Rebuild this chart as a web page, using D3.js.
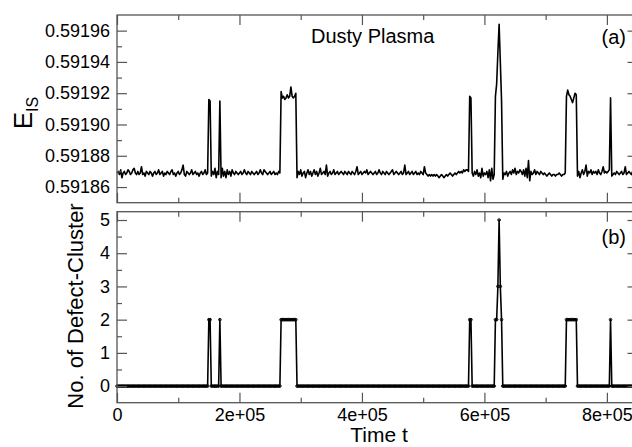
<!DOCTYPE html>
<html><head><meta charset="utf-8">
<script src="https://cdn.jsdelivr.net/npm/d3@7/dist/d3.min.js"></script>
<style>
body{margin:0;background:#fff}
svg{display:block;font-family:"Liberation Sans",Arial,Helvetica,sans-serif}
</style>
</head><body>
<svg id="chart" width="632" height="447"></svg>
<script>
// ---- data (sampled every 2000 time units, t = 0 .. 850000) ----
const timeStep = 2000;
const energy = [
0.591869,0.591870,0.591868,0.591871,0.591866,0.591869,0.591870,0.591868,0.591869,0.591871,
0.591870,0.591868,0.591869,0.591871,0.591872,0.591869,0.591868,0.591870,0.591868,0.591869,
0.591873,0.591868,0.591869,0.591867,0.591870,0.591869,0.591868,0.591870,0.591869,0.591867,
0.591869,0.591870,0.591868,0.591869,0.591871,0.591868,0.591869,0.591870,0.591867,0.591869,
0.591868,0.591870,0.591869,0.591868,0.591870,0.591871,0.591868,0.591869,0.591867,0.591869,
0.591870,0.591868,0.591869,0.591871,0.591874,0.591868,0.591867,0.591870,0.591869,0.591868,
0.591869,0.591871,0.591868,0.591869,0.591870,0.591868,0.591869,0.591867,0.591869,0.591870,
0.591868,0.591869,0.591871,0.591868,0.591869,0.591916,0.591915,0.591867,0.591870,0.591868,
0.591872,0.591866,0.591870,0.591868,0.591915,0.591866,0.591872,0.591867,0.591870,0.591866,
0.591871,0.591868,0.591870,0.591867,0.591871,0.591869,0.591868,0.591870,0.591869,0.591868,
0.591869,0.591870,0.591868,0.591869,0.591871,0.591869,0.591868,0.591870,0.591869,0.591868,
0.591870,0.591869,0.591868,0.591869,0.591870,0.591868,0.591869,0.591871,0.591869,0.591868,
0.591871,0.591870,0.591869,0.591868,0.591869,0.591870,0.591868,0.591869,0.591870,0.591868,
0.591869,0.591868,0.591870,0.591869,0.591921,0.591917,0.591918,0.591916,0.591917,0.591919,
0.591917,0.591918,0.591924,0.591918,0.591917,0.591918,0.591920,0.591866,0.591870,0.591868,
0.591871,0.591867,0.591869,0.591870,0.591866,0.591869,0.591871,0.591868,0.591870,0.591867,
0.591869,0.591871,0.591868,0.591870,0.591867,0.591869,0.591872,0.591868,0.591869,0.591870,
0.591868,0.591874,0.591867,0.591869,0.591870,0.591868,0.591869,0.591871,0.591868,0.591869,
0.591870,0.591868,0.591869,0.591870,0.591869,0.591868,0.591870,0.591869,0.591868,0.591870,
0.591869,0.591868,0.591870,0.591869,0.591868,0.591870,0.591873,0.591868,0.591869,0.591870,
0.591868,0.591869,0.591870,0.591869,0.591871,0.591868,0.591869,0.591870,0.591869,0.591868,
0.591869,0.591870,0.591868,0.591869,0.591871,0.591869,0.591868,0.591870,0.591869,0.591868,
0.591870,0.591869,0.591868,0.591869,0.591870,0.591871,0.591868,0.591869,0.591870,0.591869,
0.591868,0.591869,0.591870,0.591868,0.591869,0.591874,0.591868,0.591869,0.591870,0.591868,
0.591869,0.591870,0.591868,0.591869,0.591870,0.591868,0.591869,0.591868,0.591870,0.591869,
0.591868,0.591873,0.591869,0.591868,0.591867,0.591868,0.591867,0.591868,0.591867,0.591868,
0.591867,0.591868,0.591867,0.591866,0.591867,0.591868,0.591867,0.591866,0.591867,0.591868,
0.591867,0.591868,0.591869,0.591868,0.591867,0.591868,0.591869,0.591868,0.591869,0.591870,
0.591869,0.591870,0.591869,0.591871,0.591870,0.591871,0.591871,0.591870,0.591918,0.591917,
0.591869,0.591867,0.591870,0.591868,0.591871,0.591867,0.591869,0.591866,0.591872,0.591867,
0.591869,0.591868,0.591870,0.591866,0.591871,0.591864,0.591872,0.591865,0.591868,0.591918,
0.591926,0.591946,0.591964,0.591940,0.591915,0.591865,0.591869,0.591868,0.591870,0.591867,
0.591869,0.591870,0.591868,0.591871,0.591869,0.591872,0.591868,0.591870,0.591869,0.591871,
0.591870,0.591868,0.591871,0.591867,0.591872,0.591866,0.591877,0.591864,0.591870,0.591868,
0.591869,0.591871,0.591868,0.591870,0.591869,0.591868,0.591870,0.591869,0.591868,0.591869,
0.591868,0.591867,0.591868,0.591869,0.591868,0.591867,0.591868,0.591868,0.591867,0.591868,
0.591868,0.591869,0.591868,0.591867,0.591868,0.591868,0.591869,0.591918,0.591922,0.591919,
0.591918,0.591916,0.591914,0.591917,0.591920,0.591919,0.591867,0.591870,0.591866,0.591869,
0.591871,0.591868,0.591870,0.591874,0.591867,0.591870,0.591869,0.591871,0.591868,0.591870,
0.591869,0.591870,0.591868,0.591871,0.591869,0.591868,0.591870,0.591873,0.591869,0.591870,
0.591869,0.591870,0.591871,0.591917,0.591867,0.591868,0.591869,0.591868,0.591870,0.591869,
0.591868,0.591869,0.591870,0.591868,0.591869,0.591873,0.591868,0.591869,0.591870,0.591869,
0.591868,0.591870,0.591869,0.591868,0.591869,0.591870
];
const clusters = [
0,0,0,0,0,0,0,0,0,0,
0,0,0,0,0,0,0,0,0,0,
0,0,0,0,0,0,0,0,0,0,
0,0,0,0,0,0,0,0,0,0,
0,0,0,0,0,0,0,0,0,0,
0,0,0,0,0,0,0,0,0,0,
0,0,0,0,0,0,0,0,0,0,
0,0,0,0,0,2,2,0,0,0,
0,0,0,0,2,0,0,0,0,0,
0,0,0,0,0,0,0,0,0,0,
0,0,0,0,0,0,0,0,0,0,
0,0,0,0,0,0,0,0,0,0,
0,0,0,0,0,0,0,0,0,0,
0,0,0,0,2,2,2,2,2,2,
2,2,2,2,2,2,2,0,0,0,
0,0,0,0,0,0,0,0,0,0,
0,0,0,0,0,0,0,0,0,0,
0,0,0,0,0,0,0,0,0,0,
0,0,0,0,0,0,0,0,0,0,
0,0,0,0,0,0,0,0,0,0,
0,0,0,0,0,0,0,0,0,0,
0,0,0,0,0,0,0,0,0,0,
0,0,0,0,0,0,0,0,0,0,
0,0,0,0,0,0,0,0,0,0,
0,0,0,0,0,0,0,0,0,0,
0,0,0,0,0,0,0,0,0,0,
0,0,0,0,0,0,0,0,0,0,
0,0,0,0,0,0,0,0,0,0,
0,0,0,0,0,0,0,0,2,2,
0,0,0,0,0,0,0,0,0,0,
0,0,0,0,0,0,0,0,0,2,
2,3,5,3,2,0,0,0,0,0,
0,0,0,0,0,0,0,0,0,0,
0,0,0,0,0,0,0,0,0,0,
0,0,0,0,0,0,0,0,0,0,
0,0,0,0,0,0,0,0,0,0,
0,0,0,0,0,0,0,2,2,2,
2,2,2,2,2,2,0,0,0,0,
0,0,0,0,0,0,0,0,0,0,
0,0,0,0,0,0,0,0,0,0,
0,0,0,2,0,0,0,0,0,0,
0,0,0,0,0,0,0,0,0,0,
0,0,0,0,0,0
];
const xTicks = [0, 200000, 400000, 600000, 800000];
const xTickLabels = ["0", "2e+05", "4e+05", "6e+05", "8e+05"];
const xMinorTicks = [100000, 300000, 500000, 700000];
const eTicks = [0.59186, 0.59188, 0.59190, 0.59192, 0.59194, 0.59196];
const eTickLabels = ["0.59186", "0.59188", "0.59190", "0.59192", "0.59194", "0.59196"];
const eMinorTicks = [0.59187, 0.59189, 0.59191, 0.59193, 0.59195];
const nTicks = [0, 1, 2, 3, 4, 5];
const nTickLabels = ["0", "1", "2", "3", "4", "5"];
const nMinorTicks = [0.5, 1.5, 2.5, 3.5, 4.5];

// ---- layout ----
const svg = d3.select("#chart");
const L = 117, R = 637.5;
const p1 = {top: 15, bottom: 202.7};
const p2 = {top: 211.7, bottom: 402.7};
const frameColor = "#555";

const times = energy.map((_, i) => i * timeStep);

const x = d3.scaleLinear().domain([0, 850000]).range([L, R]);
const yE = d3.scaleLinear().domain([0.59185, 0.59197]).range([p1.bottom, p1.top]);
const yN = d3.scaleLinear().domain([-0.5, 5.25]).range([p2.bottom, p2.top]);

function styleAxis(g) {
  g.select(".domain").remove();
  g.selectAll(".tick line").attr("stroke", frameColor).attr("stroke-width", 1.2);
  g.selectAll(".tick text").attr("fill", "#000").attr("font-size", 18)
    .attr("font-family", '"Liberation Sans",Arial,Helvetica,sans-serif');
}

function panelAxes(panel, yScale, yTicks, yLabels, yMinor, showX) {
  svg.append("g").attr("transform", `translate(${L},0)`)
    .call(d3.axisLeft(yScale).tickValues(yTicks).tickSize(-10).tickPadding(7)
      .tickFormat((d, i) => yLabels[i])).call(styleAxis);
  svg.append("g").attr("transform", `translate(${L},0)`)
    .call(d3.axisLeft(yScale).tickValues(yMinor).tickSize(-5).tickFormat("")).call(styleAxis);
  svg.append("g").attr("transform", `translate(${R},0)`)
    .call(d3.axisRight(yScale).tickValues(yTicks).tickSize(-10).tickFormat("")).call(styleAxis);
  svg.append("g").attr("transform", `translate(${R},0)`)
    .call(d3.axisRight(yScale).tickValues(yMinor).tickSize(-5).tickFormat("")).call(styleAxis);
  svg.append("g").attr("transform", `translate(0,${panel.bottom})`)
    .call(d3.axisBottom(x).tickValues(xTicks).tickSize(-10).tickPadding(6)
      .tickFormat((d, i) => showX ? xTickLabels[i] : "")).call(styleAxis);
  svg.append("g").attr("transform", `translate(0,${panel.bottom})`)
    .call(d3.axisBottom(x).tickValues(xMinorTicks).tickSize(-5).tickFormat("")).call(styleAxis);
  svg.append("g").attr("transform", `translate(0,${panel.top})`)
    .call(d3.axisTop(x).tickValues(xTicks).tickSize(-10).tickFormat("")).call(styleAxis);
  svg.append("g").attr("transform", `translate(0,${panel.top})`)
    .call(d3.axisTop(x).tickValues(xMinorTicks).tickSize(-5).tickFormat("")).call(styleAxis);
  svg.append("rect").attr("x", L).attr("y", panel.top)
    .attr("width", R - L).attr("height", panel.bottom - panel.top)
    .attr("fill", "none").attr("stroke", frameColor).attr("stroke-width", 1.3);
}

// ---- panel (a) ----
const lineE = d3.line().x((d, i) => x(times[i])).y(d => yE(d));
svg.append("path").datum(energy).attr("d", lineE)
  .attr("fill", "none").attr("stroke", "#000").attr("stroke-width", 1.6)
  .attr("stroke-linejoin", "round");
panelAxes(p1, yE, eTicks, eTickLabels, eMinorTicks, false);

// ---- panel (b) ----
const lineN = d3.line().x((d, i) => x(times[i])).y(d => yN(d));
svg.append("path").datum(clusters).attr("d", lineN)
  .attr("fill", "none").attr("stroke", "#000").attr("stroke-width", 1.6)
  .attr("stroke-linejoin", "round");
svg.append("g").selectAll("circle").data(clusters).join("circle")
  .attr("cx", (d, i) => x(times[i])).attr("cy", d => yN(d)).attr("r", 1.3)
  .attr("fill", "none").attr("stroke", "#000").attr("stroke-width", 1);
panelAxes(p2, yN, nTicks, nTickLabels, nMinorTicks, true);

// ---- texts ----
svg.append("text").attr("x", 311).attr("y", 43).attr("font-size", 20).text("Dusty Plasma");
svg.append("text").attr("x", 601.5).attr("y", 44).attr("font-size", 20).text("(a)");
svg.append("text").attr("x", 601.5).attr("y", 244).attr("font-size", 20).text("(b)");
svg.append("text").attr("x", 379).attr("y", 442).attr("font-size", 21)
  .attr("text-anchor", "middle").text("Time t");
svg.append("text").attr("transform", "translate(83,306) rotate(-90)")
  .attr("font-size", 22).attr("text-anchor", "middle").text("No. of Defect-Cluster");
const eLab = svg.append("text").attr("transform", "translate(32,113) rotate(-90)")
  .attr("font-size", 26).attr("text-anchor", "middle");
eLab.append("tspan").text("E");
eLab.append("tspan").attr("font-size", 16).attr("dy", 6).text("IS");
</script>
</body></html>
